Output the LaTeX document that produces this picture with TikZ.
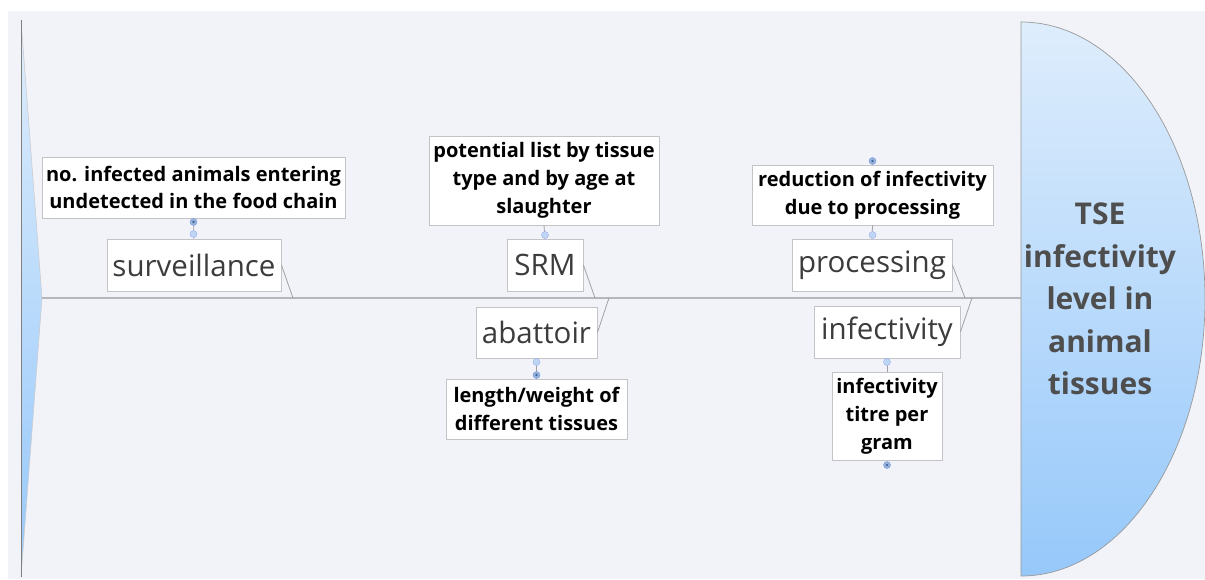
\documentclass[tikz,border=0pt]{standalone}
\usepackage{fontspec}
\setmainfont{Open Sans}
\definecolor{bg}{RGB}{242,243,248}
\definecolor{boxgray}{RGB}{196,196,200}
\definecolor{linkgray}{RGB}{160,160,165}
\definecolor{spinegray}{RGB}{182,182,188}
\definecolor{topictext}{RGB}{60,60,60}
\definecolor{headtext}{RGB}{78,78,78}
\definecolor{blueA}{RGB}{222,237,252}
\definecolor{blueB}{RGB}{150,200,250}
\definecolor{minusfill}{RGB}{190,214,242}
\definecolor{plusfill}{RGB}{150,182,220}
\definecolor{plusdot}{RGB}{70,100,150}
\tikzset{
  topic/.style={draw=boxgray, fill=white, line width=0.8pt, inner sep=0pt,
    font=\fontsize{29.5}{34}\selectfont, text=topictext, minimum height=52pt},
  note/.style={draw=boxgray, fill=white, line width=0.8pt, inner sep=0pt, align=center,
    font=\fontsize{20}{27.8}\selectfont\bfseries, text=black},
  link/.style={draw=linkgray, line width=0.8pt},
  minusmark/.style={circle, fill=minusfill, draw=minusfill!80!blue, line width=0.4pt, inner sep=0pt, minimum size=7pt},
  plusmark/.style={circle, fill=plusfill, draw=plusfill!80!blue, line width=0.4pt, inner sep=0pt, minimum size=7pt,
    path picture={\fill[plusdot] (path picture bounding box.center) circle (1.3pt);}},
}
\begin{document}
\begin{tikzpicture}[x=1pt,y=-1pt]
\useasboundingbox (0,0) rectangle (1205,579);
\fill[white] (0,0) rectangle (1205,579);
\fill[bg] (8,11) rectangle (1205,579);

% tail
\shade[top color=blueA, bottom color=blueB] (21,20) -- (42,298) -- (21,577) -- cycle;
\draw[spinegray!70!white, line width=0.6pt] (21,20) -- (42,298) -- (21,577);
\draw[gray, line width=1pt] (21,20) -- (21,577);

% head
\shade[top color=blueA, bottom color=blueB] (1021,22) arc[start angle=-90, end angle=90, x radius=184, y radius=277] -- cycle;
\draw[gray!80, line width=0.7pt] (1021,22) arc[start angle=-90, end angle=90, x radius=184, y radius=277] -- cycle;
\node[font=\fontsize{30}{42.5}\selectfont\bfseries, text=headtext, align=center] (head) at (1100,299)
  {TSE\\infectivity\\level in\\animal\\tissues};

% spine
\coordinate (tail) at (42,298);
\coordinate (headleft) at (1021,298);
\draw[spinegray, line width=1.4pt] (tail) -- (headleft);

% spine attachment points
\coordinate (s1) at (293,298);
\coordinate (s2) at (595,298);
\coordinate (s3) at (609,298);
\coordinate (s4) at (965,298);
\coordinate (s5) at (972,298);

% topics
\node[topic, minimum width=174pt] (surv) at (194,265) {surveillance};
\node[topic, minimum width=76pt] (srm) at (545,265) {SRM};
\node[topic, minimum width=121pt, minimum height=51pt] (abat) at (536.5,332.5) {abattoir};
\node[topic, minimum width=160pt] (proc) at (872,265) {processing};
\node[topic, minimum width=146pt] (infe) at (887,332) {infectivity};

\draw[link] (surv.east) -- (s1);
\draw[link] (srm.east) -- (s2);
\draw[link] (abat.east) -- (s3);
\draw[link] (proc.east) -- (s4);
\draw[link] (infe.east) -- (s5);

% notes
\node[note, minimum width=303pt, minimum height=61pt] (n1) at (193.5,187.5)
  {no. infected animals entering\\undetected in the food chain};
\node[note, minimum width=230pt, minimum height=89pt] (n2) at (544,180.5)
  {potential list by tissue\\type and by age at\\slaughter};
\node[note, minimum width=181pt, minimum height=60pt] (n3) at (536.5,409)
  {length/weight of\\different tissues};
\node[note, minimum width=241pt, minimum height=60pt] (n4) at (872.5,195)
  {reduction of infectivity\\due to processing};
\node[note, minimum width=110pt, minimum height=88pt] (n5) at (887,416)
  {infectivity\\titre per\\gram};

\draw[link] (n1.south) -- (surv.north);
\draw[link] (n2.south) -- (srm.north);
\draw[link] (abat.south) -- (n3.north);
\draw[link] (n4.south) -- (proc.north);
\draw[link] (infe.south) -- (n5.north);

% collapse/expand marks
\node[plusmark] (p1) at (193.5,222) {};
\node[minusmark] (m1) at (193.5,234) {};
\node[minusmark] (m2) at (545,235) {};
\node[minusmark] (m3) at (536.5,362) {};
\node[plusmark] (p3) at (536.5,375) {};
\node[plusmark] (p4) at (872.5,161) {};
\node[minusmark] (m4) at (872.5,235) {};
\node[minusmark] (m5) at (887,362) {};
\node[plusmark] (p5) at (887,465) {};
\end{tikzpicture}
\end{document}
